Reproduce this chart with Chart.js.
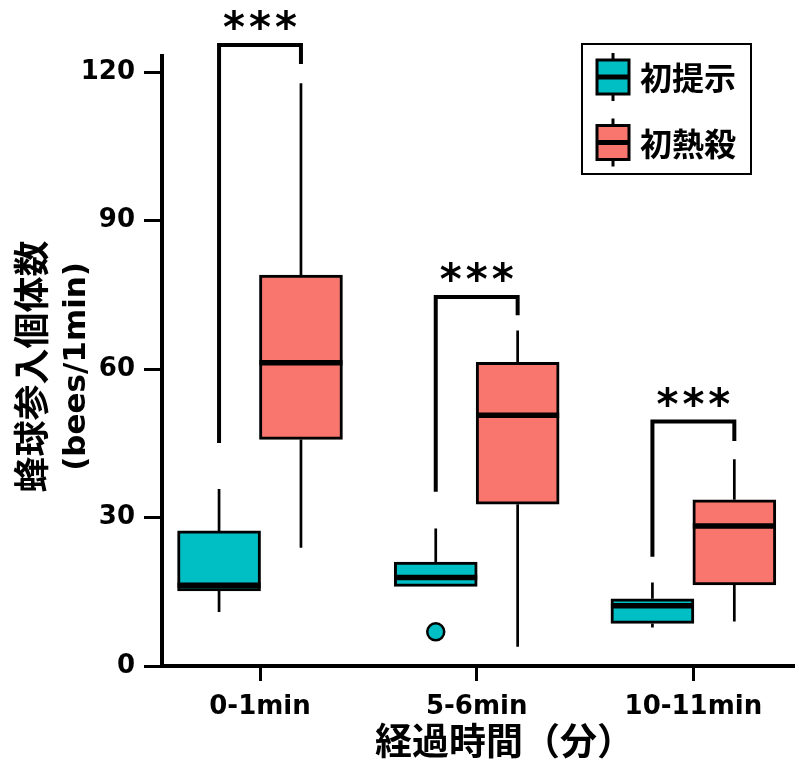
<!DOCTYPE html>
<html>
<head>
<meta charset="utf-8">
<script src="https://cdn.jsdelivr.net/npm/chart.js@4.4.1/dist/chart.umd.min.js"></script>
<style>
  html, body { margin: 0; padding: 0; background: #ffffff; }
  #wrap { width: 795px; height: 769px; }
</style>
</head>
<body>
<div id="wrap"><canvas id="chart" width="795" height="769"></canvas></div>
<script>
// ---- data -------------------------------------------------------------
const categories = ['0-1min', '5-6min', '10-11min'];
const seriesNames = ['初提示', '初熱殺'];

// 初提示: five-number summaries per time window
const presentMin    = [10.9, 16.1, 7.8];
const presentQ1     = [15.2, 16.1, 8.6];
const presentMedian = [16.3, 17.9, 12.2];
const presentQ3     = [27.3, 21.0, 13.6];
const presentMax    = [35.8, 27.8, 16.9];
const presentOutliers = [[], [6.9], []];

// 初熱殺: five-number summaries per time window
const killMin    = [23.9, 3.9, 9.0];
const killQ1     = [45.8, 32.7, 16.4];
const killMedian = [61.3, 50.7, 28.3];
const killQ3     = [79.0, 61.4, 33.6];
const killMax    = [117.8, 67.8, 41.8];
const killOutliers = [[], [], []];

// significance brackets (y values of the bracket top and the two leg ends)
const sigLabels       = ['***', '***', '***'];
const bracketTop      = [125.5, 74.6, 49.4];
const bracketLeftEnd  = [45.1, 35.2, 22.1];
const bracketRightEnd = [121.7, 70.9, 45.5];

const yTicks = [0, 30, 60, 90, 120];

// ---- styling ----------------------------------------------------------
const TEAL = '#00BFC4';
const SALMON = '#F8766D';
const BOX_SHIFT = 0.189;      // box centre offset from the category tick
const BOX_PX = 83;            // box width in pixels
const LATIN = '"DejaVu Sans", sans-serif';
const CJK = '"Noto Sans CJK JP", "Noto Sans CJK SC", sans-serif';

const series = [
  { name: seriesNames[0], color: TEAL,   shift: -BOX_SHIFT, min: presentMin, q1: presentQ1, med: presentMedian, q3: presentQ3, max: presentMax, out: presentOutliers },
  { name: seriesNames[1], color: SALMON, shift:  BOX_SHIFT, min: killMin,    q1: killQ1,    med: killMedian,    q3: killQ3,    max: killMax,    out: killOutliers }
];

// draw text so that its inked box is centred on (cx, cy)
function inkText(ctx, text, cx, cy, font, anchor) {
  ctx.font = font;
  ctx.textAlign = 'left';
  ctx.textBaseline = 'alphabetic';
  const m = ctx.measureText(text);
  const w = m.actualBoundingBoxLeft + m.actualBoundingBoxRight;
  const h = m.actualBoundingBoxAscent + m.actualBoundingBoxDescent;
  let x = cx - w / 2 + m.actualBoundingBoxLeft;
  if (anchor === 'left') x = cx + m.actualBoundingBoxLeft;
  const y = cy - h / 2 + m.actualBoundingBoxAscent;
  ctx.fillText(text, x, y);
}

// whiskers behind the boxes, medians and brackets on top
const boxplotPlugin = {
  id: 'boxplotParts',
  beforeDatasetsDraw(chart) {
    const ctx = chart.ctx, xs = chart.scales.x, ys = chart.scales.y;
    ctx.save();
    ctx.strokeStyle = '#000';
    ctx.lineWidth = 2.7;
    ctx.lineCap = 'butt';
    series.forEach(s => {
      categories.forEach((c, i) => {
        const px = xs.getPixelForValue(i + s.shift);
        ctx.beginPath();
        ctx.moveTo(px, ys.getPixelForValue(s.q3[i]));
        ctx.lineTo(px, ys.getPixelForValue(s.max[i]));
        ctx.moveTo(px, ys.getPixelForValue(s.q1[i]));
        ctx.lineTo(px, ys.getPixelForValue(s.min[i]));
        ctx.stroke();
      });
    });
    ctx.restore();
  },
  afterDatasetsDraw(chart) {
    const ctx = chart.ctx, xs = chart.scales.x, ys = chart.scales.y;
    ctx.save();
    // medians
    ctx.strokeStyle = '#000';
    ctx.lineWidth = 5.5;
    series.forEach(s => {
      categories.forEach((c, i) => {
        const px = xs.getPixelForValue(i + s.shift);
        const py = ys.getPixelForValue(s.med[i]);
        ctx.beginPath();
        ctx.moveTo(px - BOX_PX / 2, py);
        ctx.lineTo(px + BOX_PX / 2, py);
        ctx.stroke();
      });
    });
    // significance brackets
    ctx.lineWidth = 4;
    ctx.lineJoin = 'miter';
    categories.forEach((c, i) => {
      const xl = xs.getPixelForValue(i - BOX_SHIFT);
      const xr = xs.getPixelForValue(i + BOX_SHIFT);
      const yt = ys.getPixelForValue(bracketTop[i]);
      ctx.beginPath();
      ctx.moveTo(xl, ys.getPixelForValue(bracketLeftEnd[i]));
      ctx.lineTo(xl, yt);
      ctx.lineTo(xr, yt);
      ctx.lineTo(xr, ys.getPixelForValue(bracketRightEnd[i]));
      ctx.stroke();
      ctx.fillStyle = '#000';
      ctx.letterSpacing = '4px';
      inkText(ctx, sigLabels[i], xs.getPixelForValue(i), yt - 25, 'bold 42px ' + LATIN);
      ctx.letterSpacing = '0px';
    });
    ctx.restore();
  },
  afterDraw(chart) {
    const ctx = chart.ctx;
    ctx.save();
    ctx.fillStyle = '#000';
    // axis titles
    inkText(ctx, '経過時間（分）', 492.5, 740, 'bold 37px ' + CJK);
    ctx.save();
    ctx.translate(31, 366);
    ctx.rotate(-Math.PI / 2);
    inkText(ctx, '蜂球参入個体数', 0, 0, 'bold 36px ' + CJK);
    ctx.restore();
    ctx.save();
    ctx.translate(76, 366.5);
    ctx.rotate(-Math.PI / 2);
    inkText(ctx, '(bees/1min)', 0, 0, 'bold 31px ' + LATIN);
    ctx.restore();

    // legend
    ctx.strokeStyle = '#000';
    ctx.lineWidth = 2;
    ctx.strokeRect(582, 44, 169, 130);
    const rows = [77, 142.5];
    series.forEach((s, k) => {
      const cy = rows[k];
      const cx = 613;
      ctx.lineWidth = 3;
      ctx.beginPath();
      ctx.moveTo(cx, cy - 24);
      ctx.lineTo(cx, cy + 24);
      ctx.stroke();
      ctx.fillStyle = s.color;
      ctx.fillRect(597, cy - 17, 32, 34);
      ctx.strokeRect(597, cy - 17, 32, 34);
      ctx.lineWidth = 5;
      ctx.beginPath();
      ctx.moveTo(597, cy);
      ctx.lineTo(629, cy);
      ctx.stroke();
      ctx.fillStyle = '#000';
      inkText(ctx, s.name, 640, cy + 1, 'bold 32px ' + CJK, 'left');
    });
    ctx.restore();
  }
};

// ---- datasets -----------------------------------------------------------
const datasets = series.map(s => ({
  type: 'bar',
  label: s.name,
  data: categories.map((c, i) => ({ x: i + s.shift, y: [s.q1[i], s.q3[i]] })),
  backgroundColor: s.color,
  borderColor: '#000',
  borderWidth: 3,
  borderSkipped: false,
  barThickness: BOX_PX,
  grouped: false,
  order: 2
}));
series.forEach(s => {
  const pts = [];
  s.out.forEach((vals, i) => vals.forEach(v => pts.push({ x: i + s.shift, y: v })));
  datasets.push({
    type: 'scatter',
    label: s.name + ' outliers',
    data: pts,
    backgroundColor: s.color,
    borderColor: '#000',
    borderWidth: 2.5,
    pointRadius: 8.5,
    pointHoverRadius: 8.5,
    order: 1
  });
});

const tickFont = { family: LATIN, size: 26, weight: 'bold' };

new Chart(document.getElementById('chart'), {
  type: 'bar',
  data: { datasets },
  plugins: [boxplotPlugin],
  options: {
    responsive: false,
    animation: false,
    devicePixelRatio: 1,
    layout: { autoPadding: false, padding: { top: 56, right: 0, left: 0, bottom: 0 } },
    plugins: { legend: { display: false }, tooltip: { enabled: false }, title: { display: false } },
    scales: {
      x: {
        type: 'linear',
        position: 'bottom',
        min: -0.4523,
        max: 2.469,
        offset: false,
        afterBuildTicks: s => { s.ticks = categories.map((c, i) => ({ value: i })); },
        afterFit: s => { s.height = 103; s.paddingLeft = 0; s.paddingRight = 0; },
        ticks: {
          callback: v => categories[v],
          font: tickFont,
          color: '#000',
          padding: 11,
          maxRotation: 0,
          autoSkip: false
        },
        grid: { display: true, drawOnChartArea: false, offset: false, tickLength: 15, tickWidth: 3, tickColor: '#000' },
        border: { display: true, color: '#000', width: 4 }
      },
      y: {
        type: 'linear',
        min: 0,
        max: 123.3,
        afterBuildTicks: s => { s.ticks = yTicks.map(v => ({ value: v })); },
        afterFit: s => { s.width = 162; s.paddingTop = 0; s.paddingBottom = 0; },
        ticks: { font: tickFont, color: '#000', padding: 9 },
        grid: { display: true, drawOnChartArea: false, tickLength: 18, tickWidth: 3, tickColor: '#000' },
        border: { display: true, color: '#000', width: 4 }
      }
    }
  }
});
</script>
</body>
</html>
